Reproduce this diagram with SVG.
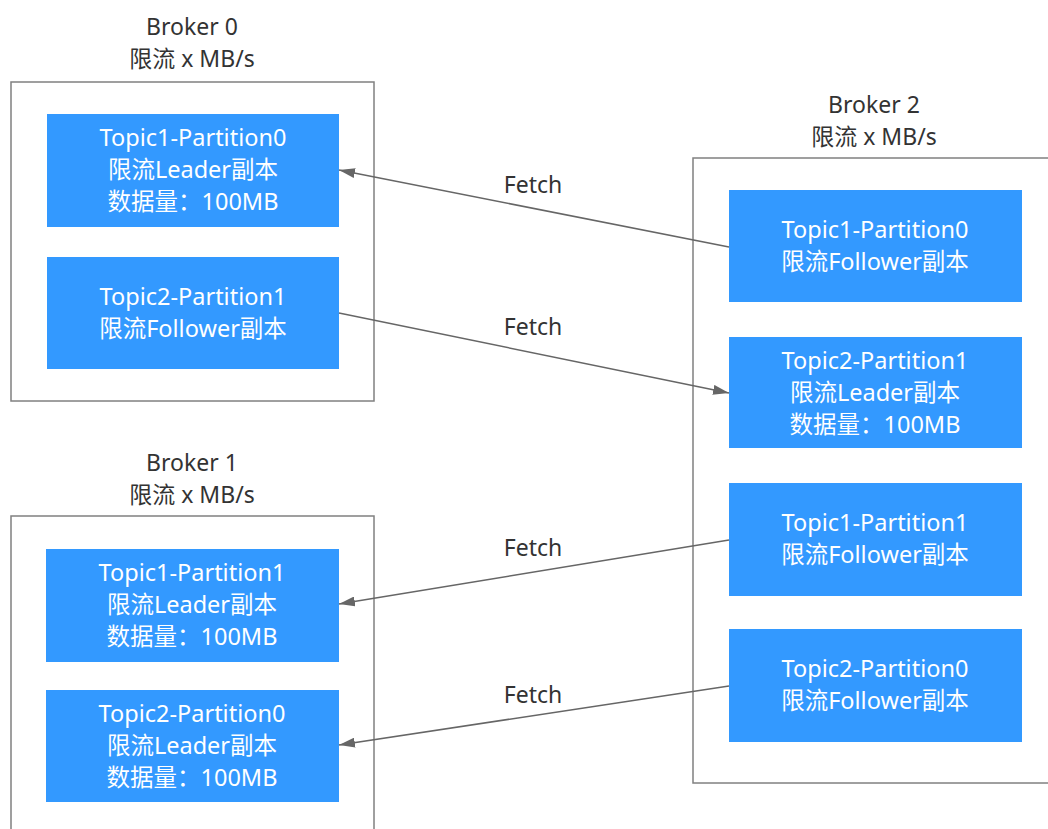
<svg xmlns="http://www.w3.org/2000/svg" width="1048" height="829" viewBox="0 0 1048 829">
<style>
.broker{fill:#fff;stroke:#808080;stroke-width:1.5}
.node{fill:#3399ff}
.nt{font-family:"Noto Sans","Noto Sans CJK SC",sans-serif;font-size:23.5px;fill:#fff;text-anchor:middle}
.bl{font-family:"Noto Sans","Noto Sans CJK SC",sans-serif;font-size:23px;fill:#333;text-anchor:middle}
.edge{stroke:#666;stroke-width:1.5;fill:none;marker-end:url(#arr)}
</style>
<defs>
<marker id="arr" viewBox="0 0 16 10" refX="16" refY="5" markerWidth="16" markerHeight="10" markerUnits="userSpaceOnUse" orient="auto">
<path d="M0,0 L16,5 L0,10 Z" fill="#666"/>
</marker>
</defs>
<rect width="1048" height="829" fill="#fff"/>

<g id="broker0">
<text class="bl" x="192" y="35">Broker 0</text>
<text class="bl" x="192" y="67">限流 x MB/s</text>
<rect class="broker" x="11" y="82" width="363" height="319"/>
</g>
<g id="broker1">
<text class="bl" x="192" y="471">Broker 1</text>
<text class="bl" x="192" y="503">限流 x MB/s</text>
<rect class="broker" x="11" y="516" width="363" height="330"/>
</g>
<g id="broker2">
<text class="bl" x="874" y="113">Broker 2</text>
<text class="bl" x="874" y="145">限流 x MB/s</text>
<rect class="broker" x="693" y="158" width="370" height="625"/>
</g>

<g id="b0-t1p0">
<rect class="node" x="47" y="114" width="292" height="113"/>
<text class="nt" x="193" y="146">Topic1-Partition0</text>
<text class="nt" x="193" y="178">限流Leader副本</text>
<text class="nt" x="193" y="210">数据量：100MB</text>
</g>
<g id="b0-t2p1">
<rect class="node" x="47" y="257" width="292" height="112"/>
<text class="nt" x="193" y="305">Topic2-Partition1</text>
<text class="nt" x="193" y="337">限流Follower副本</text>
</g>
<g id="b1-t1p1">
<rect class="node" x="46" y="549" width="293" height="113"/>
<text class="nt" x="192" y="581">Topic1-Partition1</text>
<text class="nt" x="192" y="613">限流Leader副本</text>
<text class="nt" x="192" y="645">数据量：100MB</text>
</g>
<g id="b1-t2p0">
<rect class="node" x="46" y="690" width="293" height="112"/>
<text class="nt" x="192" y="722">Topic2-Partition0</text>
<text class="nt" x="192" y="754">限流Leader副本</text>
<text class="nt" x="192" y="786">数据量：100MB</text>
</g>
<g id="b2-t1p0">
<rect class="node" x="729" y="190" width="293" height="112"/>
<text class="nt" x="875" y="238">Topic1-Partition0</text>
<text class="nt" x="875" y="270">限流Follower副本</text>
</g>
<g id="b2-t2p1">
<rect class="node" x="729" y="337" width="293" height="111"/>
<text class="nt" x="875" y="369">Topic2-Partition1</text>
<text class="nt" x="875" y="401">限流Leader副本</text>
<text class="nt" x="875" y="433">数据量：100MB</text>
</g>
<g id="b2-t1p1">
<rect class="node" x="729" y="483" width="293" height="113"/>
<text class="nt" x="875" y="531">Topic1-Partition1</text>
<text class="nt" x="875" y="563">限流Follower副本</text>
</g>
<g id="b2-t2p0">
<rect class="node" x="729" y="629" width="293" height="113"/>
<text class="nt" x="875" y="677">Topic2-Partition0</text>
<text class="nt" x="875" y="709">限流Follower副本</text>
</g>

<g id="connectors">
<path class="edge" d="M729,247 L339,170"/>
<path class="edge" d="M339,313 L729,393"/>
<path class="edge" d="M729,540 L339,604"/>
<path class="edge" d="M729,686 L339,745"/>
<text class="bl" x="533" y="193">Fetch</text>
<text class="bl" x="533" y="335">Fetch</text>
<text class="bl" x="533" y="556">Fetch</text>
<text class="bl" x="533" y="703">Fetch</text>
</g>
</svg>
